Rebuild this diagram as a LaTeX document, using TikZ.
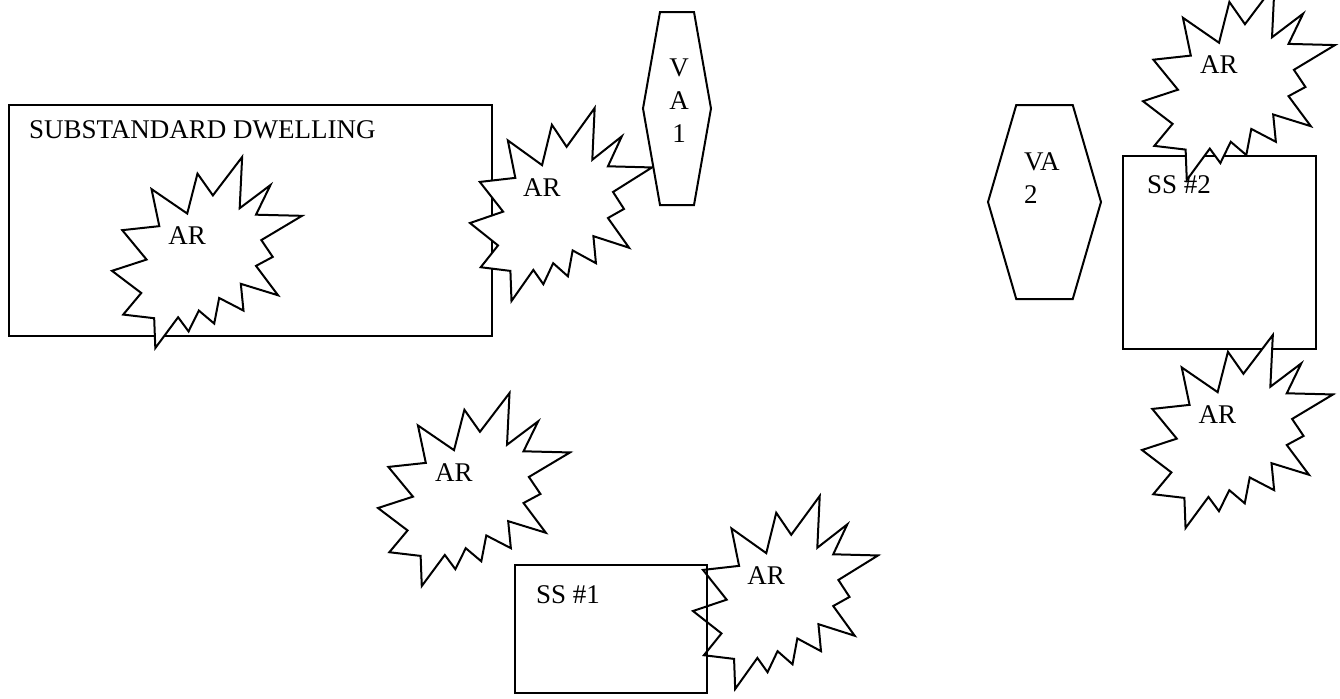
\documentclass[tikz,border=0pt]{standalone}
\usepackage{fontspec}
\setmainfont{Liberation Serif}
\usepackage{tikz}
\tikzset{every picture/.style={x=0.5pt, y=-0.5pt, line width=1pt}}
\tikzset{lbl/.style={inner sep=0pt, font=\fontsize{13.5}{16.5}\selectfont}}
\tikzset{outline/.style={draw, fill=white}}
\newcommand{\burstpath}{(0.531,0.201) -- (0.450,0.087) -- (0.396,0.296) -- (0.208,0.168)
		-- (0.249,0.362) -- (0.054,0.383) -- (0.182,0.537) -- (0,0.596)
		-- (0.154,0.712) -- (0.059,0.825) -- (0.222,0.844) -- (0.228,1)
		-- (0.348,0.839) -- (0.403,0.913) -- (0.457,0.804) -- (0.538,0.872)
		-- (0.564,0.738) -- (0.692,0.804) -- (0.678,0.664) -- (0.874,0.724)
		-- (0.758,0.570) -- (0.846,0.523) -- (0.786,0.435) -- (1,0.308)
		-- (0.758,0.302) -- (0.834,0.147) -- (0.672,0.268) -- (0.685,0) -- cycle}
\newcommand{\hexpath}{(0.25,0) -- (0.75,0) -- (1,0.5) -- (0.75,1)
		-- (0.25,1) -- (0,0.5) -- cycle}
\newcommand{\arburst}[5]{
	\begin{scope}[shift={(#2,#3)}, xscale=#4, yscale=#5]
		\path[outline] \burstpath;
	\end{scope}
	\node[lbl] (#1) at (#2+0.395*#4, #3+0.41*#5) {AR};
}

\begin{document}
\begin{tikzpicture}
	\useasboundingbox (0,0) rectangle (1340,698);
	\clip (0,0) rectangle (1340,698);
	\draw (9,105) rectangle (492,336);
	\node[lbl, anchor=west] (dwelling) at (28,130) {SUBSTANDARD DWELLING};
	\arburst{ar1}{112}{157}{190}{191}
	\arburst{ar2}{470}{108}{182}{193}
	\begin{scope}[shift={(643,12)}, xscale=68, yscale=193]
		\path[outline] \hexpath;
	\end{scope}
	\node[lbl, align=center] (va1) at (679,101) {V\\A\\1};
	\arburst{ar3}{378}{393}{192}{193}
	\arburst{ar4}{693}{496}{185}{193}
	\draw (515,565) rectangle (707,693);
	\node[lbl, anchor=west] (ss1) at (535,595) {SS \#1};
	\begin{scope}[shift={(988,105)}, xscale=113, yscale=194]
		\path[outline] \hexpath;
	\end{scope}
	\node[lbl, align=left, anchor=west] (va2) at (1023,178) {VA\\2};
	\draw (1123,156) rectangle (1316,349);
	\arburst{ar5}{1143}{-15}{192}{195}
	\node[lbl, anchor=west] (ss2) at (1146,185) {SS \#2};
	\arburst{ar6}{1142}{335}{191}{193}
\end{tikzpicture}
\end{document}
